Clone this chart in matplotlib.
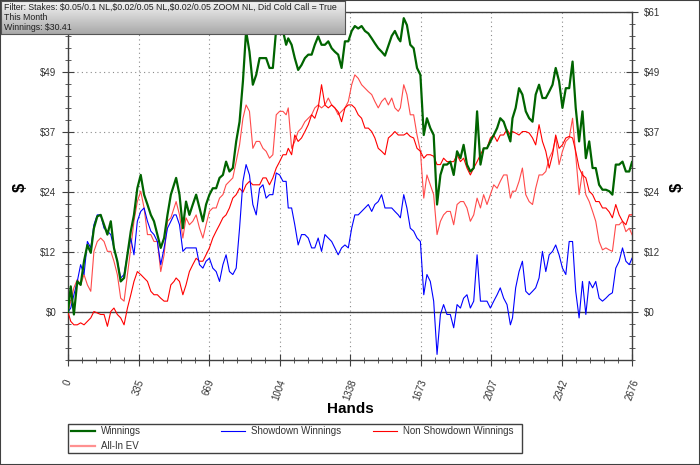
import numpy as np
import matplotlib.pyplot as plt
from matplotlib.ticker import FixedLocator, MultipleLocator
from matplotlib.lines import Line2D
from matplotlib.patches import Rectangle
from matplotlib.colors import LinearSegmentedColormap

plt.rcParams['font.family'] = ['Liberation Sans', 'DejaVu Sans']

# ---------- data (hands, dollars) ----------
hands = [
    0, 13, 28, 44, 60, 76, 92, 108, 123, 139, 155, 171, 187, 203, 218, 234, 250,
    266, 282, 298, 313, 329, 345, 361, 377, 393, 408, 424, 440, 456, 472, 488, 503,
    513, 529, 545, 560, 576, 592, 608, 624, 640, 655, 671, 687, 703, 719, 735, 750,
    766, 782, 798, 814, 830, 845, 861, 877, 893, 909, 925, 940, 956, 972, 988, 1004,
    1020, 1035,
    1045, 1061, 1076, 1092, 1108, 1124, 1140, 1156, 1171, 1187, 1203, 1219, 1235,
    1251, 1266, 1282, 1298, 1314, 1330, 1346, 1361, 1377, 1393, 1409, 1425, 1441,
    1456, 1472, 1488, 1504, 1520, 1536, 1551, 1567,
    1577, 1593, 1608, 1624, 1640, 1656, 1672, 1688, 1703, 1719, 1735, 1751, 1767,
    1782, 1798, 1814, 1830, 1846, 1862, 1877, 1893, 1909, 1925, 1941, 1957, 1972,
    1988, 2004, 2020, 2036, 2051, 2067, 2083, 2099,
    2109, 2124, 2140, 2156, 2172, 2188, 2204, 2219, 2235, 2251, 2267, 2283, 2299,
    2314, 2330, 2346, 2362, 2378, 2394, 2409, 2425, 2441, 2457, 2473, 2489, 2504,
    2520, 2536, 2552, 2568, 2583, 2599, 2615, 2631, 2647, 2663, 2676,
]

winnings = [
    0, 5.2, -0.5, 6.2, 5.5, 10.3, 13.6, 12.0, 17.0, 19.4, 19.7, 17.7, 15.7, 18.4,
    13.0, 10.3, 6.2, 6.9, 11.6, 16.4, 19.7, 25.1, 27.8, 23.8, 21.8, 19.7, 18.4, 15.7,
    13.0, 15.0, 19.7, 23.8, 25.8,
    27.2, 23.8, 17.0, 22.4, 19.7, 21.8, 23.8, 21.1, 18.4, 21.8, 23.8, 25.1, 25.1,
    27.2, 27.8, 30.5, 28.5, 29.2, 34.6, 38.6, 46.8, 57.0, 52.8, 46.1, 48.1, 51.5,
    51.5, 51.5, 49.5, 49.5, 57.5, 58.5, 57.0, 54.2,
    55.5, 54.2, 51.5, 49.1, 50.1, 51.5, 52.2, 52.2, 54.2, 55.9, 54.2, 54.2, 54.9,
    53.5, 52.8, 52.2, 49.5, 54.9, 54.9, 57.0, 58.0, 57.5, 58.0, 57.0, 56.5, 55.5,
    54.5, 53.5, 52.8, 52.0, 54.0, 56.0, 57.0, 55.5,
    54.9, 59.6, 58.2, 54.2, 53.5, 49.5, 48.1, 35.9, 39.3, 37.3, 35.9, 21.8, 27.8,
    29.9, 29.9, 30.5, 27.8, 32.6, 31.2, 33.9, 29.9, 28.5, 29.2, 40.7, 29.9, 33.2,
    33.2, 34.6, 35.9, 37.3, 39.3, 38.6, 36.6, 34.6,
    39.3, 41.4, 45.4, 44.1, 40.7, 39.3, 38.6, 44.1, 46.1, 43.4, 43.4, 44.7, 46.1,
    49.5, 46.8, 41.4, 45.4, 45.4, 50.8, 41.4, 34.6, 40.7, 31.2, 34.6, 29.2, 29.2,
    25.8, 24.8, 24.8, 24.5, 23.8, 29.9, 29.9, 30.5, 28.5, 28.5, 30.41,
]

showdown = [
    0, 0.8, 3.5, 6.2, 9.6, 7.6, 14.3, 13.0, 17.7, 19.7, 19.7, 17.0, 16.4, 15.7,
    13.0, 10.3, 6.9, 7.6, 11.6, 15.0, 11.6, 18.4, 20.4, 21.1, 18.4, 16.4, 15.7, 14.3,
    9.6, 13.0, 17.0, 18.4, 19.7,
    19.7, 17.7, 12.3, 13.0, 13.0, 13.0, 13.0, 9.6, 8.9, 10.3, 10.9, 8.9, 8.2, 6.2,
    9.6, 11.6, 8.2, 7.6, 8.9, 17.0, 26.5, 29.9, 27.8, 21.8, 19.7, 25.1, 25.8, 23.1,
    23.8, 23.8, 28.2, 27.8, 26.5, 26.5,
    21.1, 21.1, 17.7, 13.6, 15.7, 15.7, 15.0, 13.0, 13.0, 15.0, 12.3, 15.7, 15.0,
    14.3, 13.0, 11.6, 13.0, 13.6, 13.0, 17.0, 19.7, 19.7, 20.4, 21.1, 21.8, 20.4,
    21.8, 22.4, 23.8, 21.1, 21.1, 21.1, 20.4, 19.7,
    19.1, 23.8, 21.1, 17.0, 16.4, 15.0, 14.3, 3.5, 7.6, 6.2, 2.2, -8.6, -0.5, 1.5,
    -0.5, -0.5, -3.2, 1.5, 0.8, 2.8, 3.5, 0.8, 2.2, 11.6, 2.2, 2.2, 2.2, 0.8, 2.2,
    3.5, 4.9, 2.8, 1.5, -2.6,
    -1.2, 4.9, 8.2, 10.3, 4.2, 3.5, 4.2, 4.9, 6.9, 12.3, 8.2, 11.6, 12.3, 13.6,
    11.6, 8.9, 7.6, 14.3, 14.3, 4.2, -1.2, 6.2, -0.5, 6.2, 4.9, 6.2, 2.8, 2.2, 2.8,
    3.5, 3.9, 8.9, 10.3, 13.0, 10.3, 9.6, 10.9,
]

non_showdown = [
    0, -1.9, -2.6, -2.6, -2.2, -2.6, -1.9, -1.2, 0.1, -0.2, -0.5, -0.5, -2.9, 0.1,
    0.8, -0.5, -1.2, -2.6, 0.8, 3.5, 6.2, 8.2, 7.6, 6.9, 6.2, 4.2, 3.5, 3.5, 2.8,
    2.2, 2.2, 5.5, 6.2,
    6.9, 6.2, 3.5, 5.5, 8.2, 9.6, 10.9, 10.3, 10.3, 11.6, 13.0, 15.0, 16.4, 17.7,
    19.1, 19.7, 21.1, 23.1, 23.8, 25.1, 24.3, 25.8, 26.5, 25.8, 25.8, 25.8, 27.2,
    27.2, 25.8, 27.2, 29.2, 30.5, 31.9, 31.9,
    33.2, 31.9, 35.9, 34.6, 35.3, 36.6, 38.0, 40.0, 39.3, 41.4, 46.1, 42.0, 41.4,
    42.0, 41.4, 40.6, 38.6, 41.4, 42.0, 42.0, 41.4, 40.0, 39.3, 37.3, 37.3, 36.6,
    35.3, 33.2, 32.6, 31.9, 35.3, 35.9, 36.6, 35.9,
    35.9, 35.9, 36.3, 35.6, 35.3, 33.2, 32.6, 31.2, 31.9, 31.9, 31.6, 29.9, 29.9,
    31.2, 30.5, 30.5, 30.5, 31.9, 30.5, 31.2, 29.2, 27.8, 29.2, 30.5, 31.9, 33.2,
    33.2, 35.3, 35.9, 34.6, 35.9, 35.9, 37.0, 35.9,
    36.6, 36.3, 35.9, 36.6, 36.6, 36.3, 35.3, 33.9, 38.0, 34.6, 32.6, 29.2, 31.9,
    35.9, 33.2, 33.9, 35.3, 35.6, 35.3, 32.6, 29.2, 27.8, 27.2, 24.5, 23.8, 22.4,
    22.4, 21.1, 21.1, 20.3, 19.1, 21.8, 19.7, 18.4, 17.7, 19.7, 19.7,
]

allin_ev = [
    0, 2.2, 4.9, 6.6, 5.5, 7.6, 5.5, 4.2, 12.3, 14.3, 15.0, 14.3, 12.3, 12.3, 10.3,
    7.6, 2.8, 2.2, 7.6, 13.0, 18.4, 22.4, 24.5, 21.1, 15.7, 15.7, 14.3, 14.3, 8.2,
    11.6, 18.4, 19.1, 21.1,
    22.4, 19.7, 15.0, 19.1, 17.7, 18.4, 19.7, 17.0, 15.0, 17.7, 20.4, 21.1, 21.1,
    23.1, 23.8, 25.8, 26.5, 27.2, 30.5, 33.9, 39.3, 42.0, 40.7, 33.2, 34.6, 34.6,
    33.2, 32.6, 31.2, 31.9, 40.0, 40.7, 40.7, 40.0,
    41.4, 33.2, 34.6, 36.6, 37.3, 38.6, 39.3, 40.0, 41.4, 42.0, 41.4, 42.0, 43.4,
    42.0, 41.4, 40.0, 40.7, 41.4, 42.7, 46.1, 48.1, 47.4, 46.1, 45.4, 44.7, 44.1,
    42.7, 41.4, 42.7, 43.4, 42.0, 43.4, 41.4, 40.7,
    41.4, 46.1, 44.1, 40.0, 40.0, 35.9, 32.6, 23.1, 27.8, 25.8, 23.8, 15.7, 18.4,
    19.7, 20.4, 20.4, 17.7, 21.8, 22.4, 22.4, 21.1, 18.4, 19.7, 23.1, 21.1, 23.8,
    21.8, 23.8, 25.8, 25.1, 26.5, 27.8, 27.8, 23.1,
    24.5, 24.5, 26.5, 29.2, 23.8, 22.4, 21.8, 25.1, 27.8, 27.8, 28.5, 31.2, 32.6,
    35.3, 29.9, 32.6, 34.6, 35.3, 39.3, 31.9, 23.8, 28.5, 23.8, 22.4, 20.4, 18.4,
    14.3, 12.6, 13.0, 12.6, 12.3, 17.7, 17.7, 18.4, 16.3, 17.0, 15.7,
]

total_hands = 2676
y_step = 12.17
x_ticklabels = ["0", "335", "669", "1004", "1338", "1673", "2007", "2342", "2676"]
title_lines = [
    "Filter: Stakes: $0.05/0.1 NL,$0.02/0.05 NL,$0.02/0.05 ZOOM NL, Did Cold Call = True",
    "This Month",
    "Winnings: $30.41",
]

GREEN = "#006400"
BLUE = "#0000ff"
RED = "#ff0000"
EV_RED = "#ff4a4a"
EV_LEGEND = "#ff9090"
AXC = "#404040"

fig = plt.figure(figsize=(7, 4.65), dpi=100)
W, H = 700, 465
ax = fig.add_axes([68 / W, 105 / H, 564 / W, 348 / H])

ax.axhline(0, color=AXC, lw=1.0, zorder=2)
ax.plot(hands, allin_ev, color=EV_RED, lw=0.8, zorder=3)
ax.plot(hands, non_showdown, color=RED, lw=0.8, zorder=3)
ax.plot(hands, showdown, color=BLUE, lw=0.8, zorder=4)
ax.plot(hands, winnings, color=GREEN, lw=1.6, zorder=5)

ax.set_xlim(0, total_hands)
ax.set_ylim(-4 * y_step / 5, 5 * y_step)

ax.xaxis.set_major_locator(FixedLocator(np.linspace(0, total_hands, 9)))
ax.xaxis.set_minor_locator(MultipleLocator(total_hands / 40))
ax.set_xticklabels(x_ticklabels, rotation=70)
yt = [i * y_step for i in range(6)]
ax.yaxis.set_major_locator(FixedLocator(yt))
ax.yaxis.set_minor_locator(MultipleLocator(y_step / 5))
ax.set_yticklabels([f"${v:.0f}" for v in yt])

ax.grid(True, which="major", color="#8a8a8a", linestyle=(0, (1, 3)), lw=0.8)
for s in ax.spines.values():
    s.set_color(AXC)
    s.set_linewidth(1.0)

ax.tick_params(axis="both", which="both", direction="inout", colors=AXC,
               labelcolor="#333333", labelsize=7)
ax.tick_params(axis="both", which="major", length=8)
ax.tick_params(axis="both", which="minor", length=5)
ax.tick_params(axis="y", which="both", left=True, right=True,
               labelleft=True, labelright=True, pad=4.5)
ax.tick_params(axis="x", which="both", top=False, pad=9)
# the top-left label sits under the filter box in the original
ax.yaxis.get_major_ticks()[-1].label1.set_visible(False)

ax.set_xlabel("Hands", fontsize=11, fontweight="bold", labelpad=0)
fig.text(20 / W, 1 - 187 / H, "$", rotation=90, fontsize=12, fontweight="bold",
         ha="center", va="center")
fig.text(677 / W, 1 - 187 / H, "$", rotation=90, fontsize=12, fontweight="bold",
         ha="center", va="center")

# legend box drawn by hand: 3 columns, All-In EV wraps to second row
fig.patches.append(Rectangle((68 / W, 1 - 453 / H), 454 / W, 29 / H,
                             transform=fig.transFigure, facecolor="white",
                             edgecolor=AXC, lw=1.0))
legend_items = [
    ("Winnings", GREEN, 1.6, 71, 431),
    ("Showdown Winnings", BLUE, 0.8, 221, 431),
    ("Non Showdown Winnings", RED, 0.8, 373, 431),
    ("All-In EV", EV_LEGEND, 1.6, 71, 446),
]
for name, col, lw, x0, y0 in legend_items:
    fig.lines.append(Line2D([x0 / W, (x0 + 24) / W], [1 - y0 / H] * 2,
                            transform=fig.transFigure, color=col, lw=lw))
    fig.text((x0 + 30) / W, 1 - y0 / H, name, fontsize=7, color="#333333",
             va="center", ha="left")

# filter box in the top-left corner
box = fig.add_axes([1 / W, 1 - 34 / H, 344 / W, 33 / H])
grad = np.linspace(0, 1, 64).reshape(-1, 1)
cmap = LinearSegmentedColormap.from_list("g", ["#f4f4f4", "#a9a9a9"])
box.imshow(grad, cmap=cmap, aspect="auto", extent=(0, 1, 0, 1), origin="upper")
box.set_xticks([])
box.set_yticks([])
for s in box.spines.values():
    s.set_color("#555555")
box.text(0.008, 0.5, "\n".join(title_lines), fontsize=6.3, color="#202020",
         va="center", ha="left", linespacing=1.12, transform=box.transAxes)

fig.patches.append(Rectangle((0, 0), 1, 1, transform=fig.transFigure, fill=False,
                             edgecolor="#404040", lw=1.5))

fig.savefig("out.png", dpi=100)
